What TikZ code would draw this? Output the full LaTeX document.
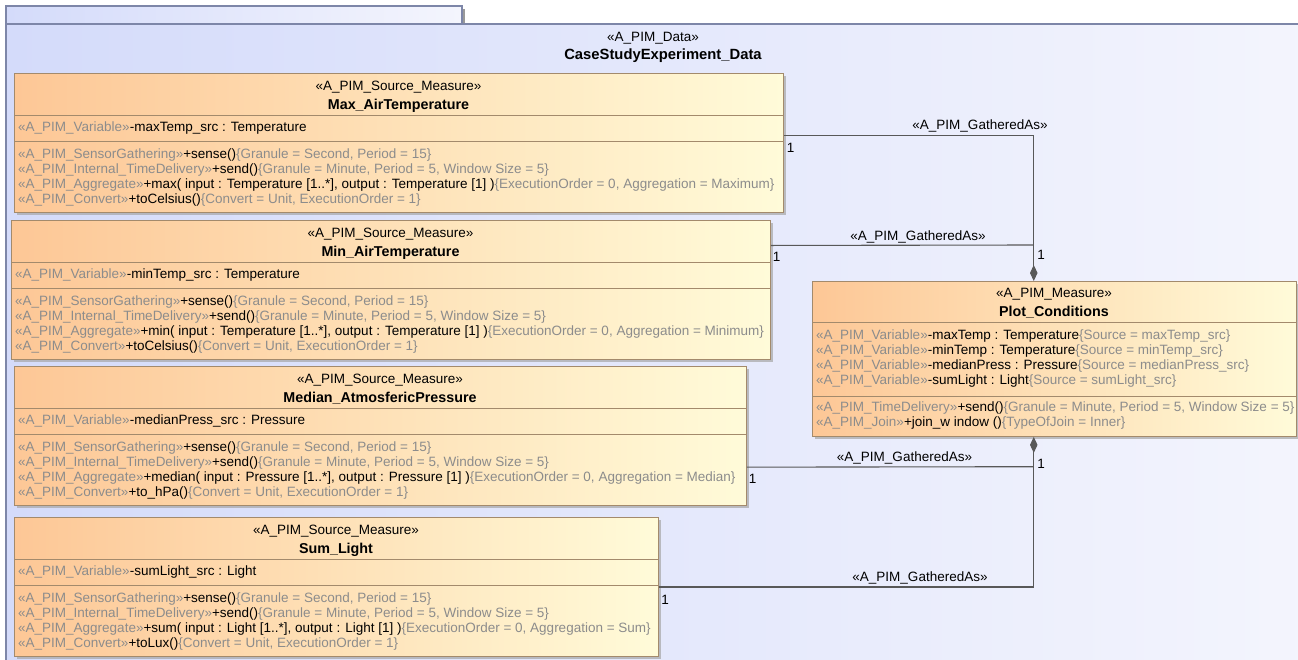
\documentclass[tikz,border=0pt]{standalone}
\usepackage{fontspec}
\setmainfont{Liberation Sans}
\usepackage{xcolor}
\usepackage{tikz}
\usetikzlibrary{arrows.meta,shadows}

\definecolor{pkgL}{RGB}{212,219,250}
\definecolor{pkgR}{RGB}{244,245,253}
\definecolor{pkgLine}{RGB}{125,134,168}
\definecolor{boxL}{RGB}{253,199,150}
\definecolor{boxR}{RGB}{255,251,217}
\definecolor{boxLine}{RGB}{163,138,108}
\definecolor{stGray}{RGB}{140,140,140}
\definecolor{linkGray}{RGB}{88,88,88}

% grey stereotype / constraint text
\newcommand{\st}[1]{\textcolor{stGray}{#1}}

\begin{document}
\begin{tikzpicture}[x=1pt, y=-1pt,
        every node/.style={font=\fontsize{13.5}{15}\selectfont, inner sep=0pt},
        classbox/.style={draw=boxLine, line width=0.9pt, left color=boxL, right color=boxR, anchor=north west,
            drop shadow={shadow xshift=3pt, shadow yshift=-3pt, fill=black!35, opacity=0.7}},
        sepline/.style={draw=boxLine, line width=0.9pt},
        rowtext/.style={anchor=base west},
        headtext/.style={anchor=base},
        nametext/.style={anchor=base, font=\fontsize{14.3}{15}\selectfont\bfseries},
        gathered/.style={draw=linkGray, line width=1.1pt},
        owner/.style={gathered, -{Diamond[length=16pt, width=7.5pt, fill=linkGray]}},
        multtext/.style={anchor=center}]

        \clip (0,0) rectangle (1298,659);
        \fill[white] (0,0) rectangle (1298,659);

        % PACKAGE FRAME
        \fill[black!40] (462,9) rectangle (465,24);
        \draw[draw=pkgLine, line width=1.2pt, left color=pkgL, right color=pkgR] (6,6) rectangle (462,24);
        \draw[draw=pkgLine, line width=1.2pt, left color=pkgL, right color=pkgR] (6,24) rectangle (1320,680);
        \node[headtext] (pkgSt) at (653,41.7) {«A\_PIM\_Data»};
        \node[nametext, font=\fontsize{14.8}{15}\selectfont\bfseries] (pkgName) at (663,59) {CaseStudyExperiment\_Data};

        % 1. MAX AIR TEMPERATURE
        \node[classbox, minimum width=769, minimum height=139] (maxT) at (14,73) {};
        \node[headtext] (maxSt) at (398.5,90.5) {«A\_PIM\_Source\_Measure»};
        \node[nametext] (maxName) at (398.5,109.5) {Max\_AirTemperature};
        \draw[sepline] (14,115) -- (783,115);
        \node[rowtext] (maxAttr) at (18,131) {\st{«A\_PIM\_Variable»}-maxTemp\_src : Temperature};
        \draw[sepline] (14,141.5) -- (783,141.5);
        \node[rowtext] (maxOp1) at (18,158.3) {\st{«A\_PIM\_SensorGathering»}+sense()\st{\{Granule = Second, Period = 15\}}};
        \node[rowtext] (maxOp2) at (18,173.5) {\st{«A\_PIM\_Internal\_TimeDelivery»}+send()\st{\{Granule = Minute, Period = 5, Window Size = 5\}}};
        \node[rowtext] (maxOp3) at (18,188.7) {\st{«A\_PIM\_Aggregate»}+max( input : Temperature [1..*], output : Temperature [1] )\st{\{ExecutionOrder = 0, Aggregation = Maximum\}}};
        \node[rowtext] (maxOp4) at (18,203.9) {\st{«A\_PIM\_Convert»}+toCelsius()\st{\{Convert = Unit, ExecutionOrder = 1\}}};

        % 2. MIN AIR TEMPERATURE
        \node[classbox, minimum width=759, minimum height=139] (minT) at (11,220) {};
        \node[headtext] (minSt) at (390.5,237.3) {«A\_PIM\_Source\_Measure»};
        \node[nametext] (minName) at (390.5,256.5) {Min\_AirTemperature};
        \draw[sepline] (11,262) -- (770,262);
        \node[rowtext] (minAttr) at (15,278) {\st{«A\_PIM\_Variable»}-minTemp\_src : Temperature};
        \draw[sepline] (11,288.5) -- (770,288.5);
        \node[rowtext] (minOp1) at (15,305.3) {\st{«A\_PIM\_SensorGathering»}+sense()\st{\{Granule = Second, Period = 15\}}};
        \node[rowtext] (minOp2) at (15,320.5) {\st{«A\_PIM\_Internal\_TimeDelivery»}+send()\st{\{Granule = Minute, Period = 5, Window Size = 5\}}};
        \node[rowtext] (minOp3) at (15,335.7) {\st{«A\_PIM\_Aggregate»}+min( input : Temperature [1..*], output : Temperature [1] )\st{\{ExecutionOrder = 0, Aggregation = Minimum\}}};
        \node[rowtext] (minOp4) at (15,350.9) {\st{«A\_PIM\_Convert»}+toCelsius()\st{\{Convert = Unit, ExecutionOrder = 1\}}};

        % 3. MEDIAN ATMOSFERIC PRESSURE
        \node[classbox, minimum width=732, minimum height=139] (medP) at (14,366) {};
        \node[headtext] (medSt) at (380,383.3) {«A\_PIM\_Source\_Measure»};
        \node[nametext] (medName) at (380,402.5) {Median\_AtmosfericPressure};
        \draw[sepline] (14,408) -- (746,408);
        \node[rowtext] (medAttr) at (18,424) {\st{«A\_PIM\_Variable»}-medianPress\_src : Pressure};
        \draw[sepline] (14,434.5) -- (746,434.5);
        \node[rowtext] (medOp1) at (18,451.3) {\st{«A\_PIM\_SensorGathering»}+sense()\st{\{Granule = Second, Period = 15\}}};
        \node[rowtext] (medOp2) at (18,466.5) {\st{«A\_PIM\_Internal\_TimeDelivery»}+send()\st{\{Granule = Minute, Period = 5, Window Size = 5\}}};
        \node[rowtext] (medOp3) at (18,481.7) {\st{«A\_PIM\_Aggregate»}+median( input : Pressure [1..*], output : Pressure [1] )\st{\{ExecutionOrder = 0, Aggregation = Median\}}};
        \node[rowtext] (medOp4) at (18,496.9) {\st{«A\_PIM\_Convert»}+to\_hPa()\st{\{Convert = Unit, ExecutionOrder = 1\}}};

        % 4. SUM LIGHT
        \node[classbox, minimum width=644, minimum height=139] (sumL) at (14,517) {};
        \node[headtext] (sumSt) at (336,534.3) {«A\_PIM\_Source\_Measure»};
        \node[nametext] (sumName) at (336,553.5) {Sum\_Light};
        \draw[sepline] (14,559) -- (658,559);
        \node[rowtext] (sumAttr) at (18,575) {\st{«A\_PIM\_Variable»}-sumLight\_src : Light};
        \draw[sepline] (14,585.5) -- (658,585.5);
        \node[rowtext] (sumOp1) at (18,602.3) {\st{«A\_PIM\_SensorGathering»}+sense()\st{\{Granule = Second, Period = 15\}}};
        \node[rowtext] (sumOp2) at (18,617.5) {\st{«A\_PIM\_Internal\_TimeDelivery»}+send()\st{\{Granule = Minute, Period = 5, Window Size = 5\}}};
        \node[rowtext] (sumOp3) at (18,632.7) {\st{«A\_PIM\_Aggregate»}+sum( input : Light [1..*], output : Light [1] )\st{\{ExecutionOrder = 0, Aggregation = Sum\}}};
        \node[rowtext] (sumOp4) at (18,647.9) {\st{«A\_PIM\_Convert»}+toLux()\st{\{Convert = Unit, ExecutionOrder = 1\}}};

        % 5. PLOT CONDITIONS (the measure)
        \node[classbox, minimum width=484, minimum height=155] (plot) at (812,281) {};
        \node[headtext] (plotSt) at (1054,297.7) {«A\_PIM\_Measure»};
        \node[nametext] (plotName) at (1054,316.7) {Plot\_Conditions};
        \draw[sepline] (812,322.5) -- (1296,322.5);
        \node[rowtext] (plotAttr1) at (816,339) {\st{«A\_PIM\_Variable»}-maxTemp : Temperature\st{\{Source = maxTemp\_src\}}};
        \node[rowtext] (plotAttr2) at (816,354.3) {\st{«A\_PIM\_Variable»}-minTemp : Temperature\st{\{Source = minTemp\_src\}}};
        \node[rowtext] (plotAttr3) at (816,369.6) {\st{«A\_PIM\_Variable»}-medianPress : Pressure\st{\{Source = medianPress\_src\}}};
        \node[rowtext] (plotAttr4) at (816,384.9) {\st{«A\_PIM\_Variable»}-sumLight : Light\st{\{Source = sumLight\_src\}}};
        \draw[sepline] (812,396.5) -- (1296,396.5);
        \node[rowtext] (plotOp1) at (816,411.7) {\st{«A\_PIM\_TimeDelivery»}+send()\st{\{Granule = Minute, Period = 5, Window Size = 5\}}};
        \node[rowtext] (plotOp2) at (816,426.9) {\st{«A\_PIM\_Join»}+join\_w indow ()\st{\{TypeOfJoin = Inner\}}};

        % GATHERED-AS LINKS
        \coordinate (jTop) at (1033.3,245);
        \coordinate (jLow) at (1033.3,466.7);
        \draw[owner] ([yshift=7.5pt]maxT.east) -| ([xshift=-20.7pt]plot.north);
        \draw[gathered] ([yshift=44.5pt]minT.east) -- (jTop);
        \draw[owner] (sumL.east) -| ([xshift=-20.7pt]plot.south);
        \draw[gathered] ([yshift=-31.2pt]medP.east) -- (jLow);

        % stereotypes and multiplicities on the links
        \node[headtext] (lnkA) at (980,129.5) {«A\_PIM\_GatheredAs»};
        \node[headtext] (lnkB) at (918,240.2) {«A\_PIM\_GatheredAs»};
        \node[headtext] (lnkC) at (904.5,461.2) {«A\_PIM\_GatheredAs»};
        \node[headtext] (lnkD) at (920,581.2) {«A\_PIM\_GatheredAs»};
        \node[multtext] (mA) at (790.7,147.7) {1};
        \node[multtext] (mB) at (776.7,257.3) {1};
        \node[multtext] (mB2) at (1041,255.3) {1};
        \node[multtext] (mC) at (752.7,479.3) {1};
        \node[multtext] (mC2) at (1041,464) {1};
        \node[multtext] (mD) at (665,600) {1};

    \end{tikzpicture}
\end{document}
